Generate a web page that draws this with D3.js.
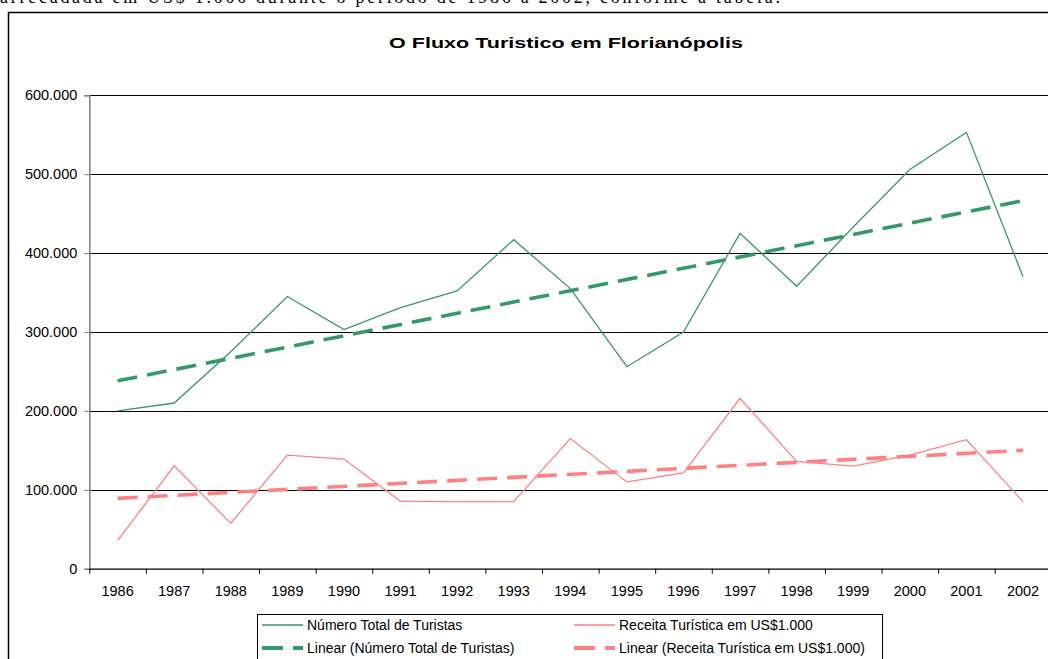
<!DOCTYPE html>
<html>
<head>
<meta charset="utf-8">
<script src="https://cdn.jsdelivr.net/npm/d3@7"></script>
<style>
  body { margin: 0; background: #fff; }
  svg { display: block; font-family: "Liberation Sans", Arial, sans-serif; }
</style>
</head>
<body>
<svg id="chart" width="1048" height="659"></svg>
<script>
var years = ['1986', '1987', '1988', '1989', '1990', '1991', '1992', '1993', '1994',
    '1995', '1996', '1997', '1998', '1999', '2000', '2001', '2002'];
var turistas = [200000, 210000, 275000, 345000, 303000, 331000, 352000, 417000, 355000,
    256000, 300000, 425000, 358000, 433000, 506000, 553000, 370000];
var receita = [35500, 130500, 57500, 144000, 139000, 85500, 85000, 85000, 165000,
    110000, 121500, 216000, 136000, 130000, 144000, 163500, 85000];
var yTicks = [0, 100000, 200000, 300000, 400000, 500000, 600000];

var green = '#339966';
var pink = '#ff8080';

var svg = d3.select('#chart');
var plotL = 89.3, plotR = 1051.3, plotT = 95.3, plotB = 568.7;

var x = d3.scaleBand().domain(years).range([plotL, plotR]);
var xi = d3.scaleLinear().domain([0, years.length]).range([plotL, plotR]);
var y = d3.scaleLinear().domain([0, 600000]).range([plotB, plotT]);
var cx = function (d) { return x(d) + x.bandwidth() / 2; };

var fmt = d3.formatLocale({ decimal: ',', thousands: '.', grouping: [3], currency: ['', ''] }).format(',');

// least squares trend, like the spreadsheet "Linear" trendline
function trend(vals) {
    var n = vals.length;
    var mx = (n - 1) / 2, my = d3.mean(vals);
    var sxy = 0, sxx = 0;
    vals.forEach(function (v, i) { sxy += (i - mx) * (v - my); sxx += (i - mx) * (i - mx); });
    var b = sxy / sxx;
    return [my - b * mx, my + b * (n - 1 - mx)];
}

// text of the page above, cut by the frame
svg.append('text')
    .attr('x', 0).attr('y', 2.5)
    .attr('font-family', '"Liberation Serif", "Times New Roman", serif')
    .attr('font-size', 18)
    .attr('textLength', 780)
    .text('arrecadada em US$ 1.000 durante o período de 1986 a 2002, conforme a tabela.');

// outer frame
svg.append('rect')
    .attr('x', 8.5).attr('y', 12.5)
    .attr('width', 1200).attr('height', 700)
    .attr('fill', 'none').attr('stroke', '#000').attr('stroke-width', 1.5);

svg.append('text')
    .attr('x', 566).attr('y', 48)
    .attr('text-anchor', 'middle')
    .attr('font-weight', 'bold')
    .attr('font-size', 15)
    .attr('textLength', 354)
    .attr('lengthAdjust', 'spacingAndGlyphs')
    .text('O Fluxo Turistico em Florianópolis');

// gridlines
svg.append('g')
    .selectAll('line')
    .data(yTicks.slice(1))
    .enter().append('line')
    .attr('x1', plotL).attr('x2', plotR)
    .attr('y1', function (d) { return Math.round(y(d)) + 0.5; })
    .attr('y2', function (d) { return Math.round(y(d)) + 0.5; })
    .attr('stroke', '#000').attr('stroke-width', 1);

// y axis
var gy = svg.append('g')
    .attr('transform', 'translate(' + plotL + ',0)')
    .call(d3.axisLeft(y).tickValues(yTicks).tickSize(5).tickPadding(7).tickFormat(fmt));
gy.select('.domain').attr('stroke', '#808080').attr('stroke-width', 1.5);
gy.selectAll('.tick line').attr('stroke', '#808080');
gy.selectAll('text').attr('font-size', 14.5).attr('fill', '#000').attr('font-family', '"Liberation Sans", Arial, sans-serif');

// x axis: labels centred, ticks between categories
var gx = svg.append('g')
    .attr('transform', 'translate(0,' + plotB + ')')
    .call(d3.axisBottom(x).tickSize(0).tickPadding(17));
gx.select('.domain').attr('stroke', '#000').attr('stroke-width', 1.2);
gx.selectAll('text').attr('font-size', 14.5).attr('fill', '#000').attr('font-family', '"Liberation Sans", Arial, sans-serif');

var gt = svg.append('g')
    .attr('transform', 'translate(0,' + plotB + ')')
    .call(d3.axisBottom(xi).tickValues(d3.range(years.length + 1)).tickSize(5).tickFormat(''));
gt.select('.domain').remove();
gt.selectAll('.tick line').attr('stroke', '#000');

var line = d3.line()
    .x(function (d) { return cx(d.year); })
    .y(function (d) { return y(d.v); });

function pts(vals) {
    return vals.map(function (v, i) { return { year: years[i], v: v }; });
}
function trendPts(vals) {
    var t = trend(vals);
    return [{ year: years[0], v: t[0] }, { year: years[years.length - 1], v: t[1] }];
}

svg.append('path').datum(trendPts(turistas))
    .attr('d', line).attr('fill', 'none')
    .attr('stroke', green).attr('stroke-width', 3.6).attr('stroke-dasharray', '20,10');
svg.append('path').datum(trendPts(receita))
    .attr('d', line).attr('fill', 'none')
    .attr('stroke', pink).attr('stroke-width', 3.6).attr('stroke-dasharray', '20,10');

svg.append('path').datum(pts(turistas))
    .attr('d', line).attr('fill', 'none')
    .attr('stroke', green).attr('stroke-width', 1.3);
svg.append('path').datum(pts(receita))
    .attr('d', line).attr('fill', 'none')
    .attr('stroke', pink).attr('stroke-width', 1.3);

// legend
var legendItems = [
    { label: 'Número Total de Turistas', color: green, dash: null, col: 0, row: 0 },
    { label: 'Receita Turística em US$1.000', color: pink, dash: null, col: 1, row: 0 },
    { label: 'Linear (Número Total de Turistas)', color: green, dash: '21,10', col: 0, row: 1 },
    { label: 'Linear (Receita Turística em US$1.000)', color: pink, dash: '21,10', col: 1, row: 1 }
];
var lg = svg.append('g');
lg.append('rect')
    .attr('x', 257.5).attr('y', 614.5)
    .attr('width', 625).attr('height', 60)
    .attr('fill', '#fff').attr('stroke', '#000').attr('stroke-width', 1);
var colX = [262, 574];
var rowY = [625, 648];
var item = lg.selectAll('g.item').data(legendItems).enter().append('g')
    .attr('transform', function (d) { return 'translate(' + colX[d.col] + ',' + rowY[d.row] + ')'; });
item.append('line')
    .attr('x1', 0).attr('x2', 41)
    .attr('stroke', function (d) { return d.color; })
    .attr('stroke-width', function (d) { return d.dash ? 4 : 1.3; })
    .attr('stroke-dasharray', function (d) { return d.dash; });
item.append('text')
    .attr('x', 45).attr('dy', '0.35em')
    .attr('font-size', 14)
    .text(function (d) { return d.label; });
</script>
</body>
</html>
